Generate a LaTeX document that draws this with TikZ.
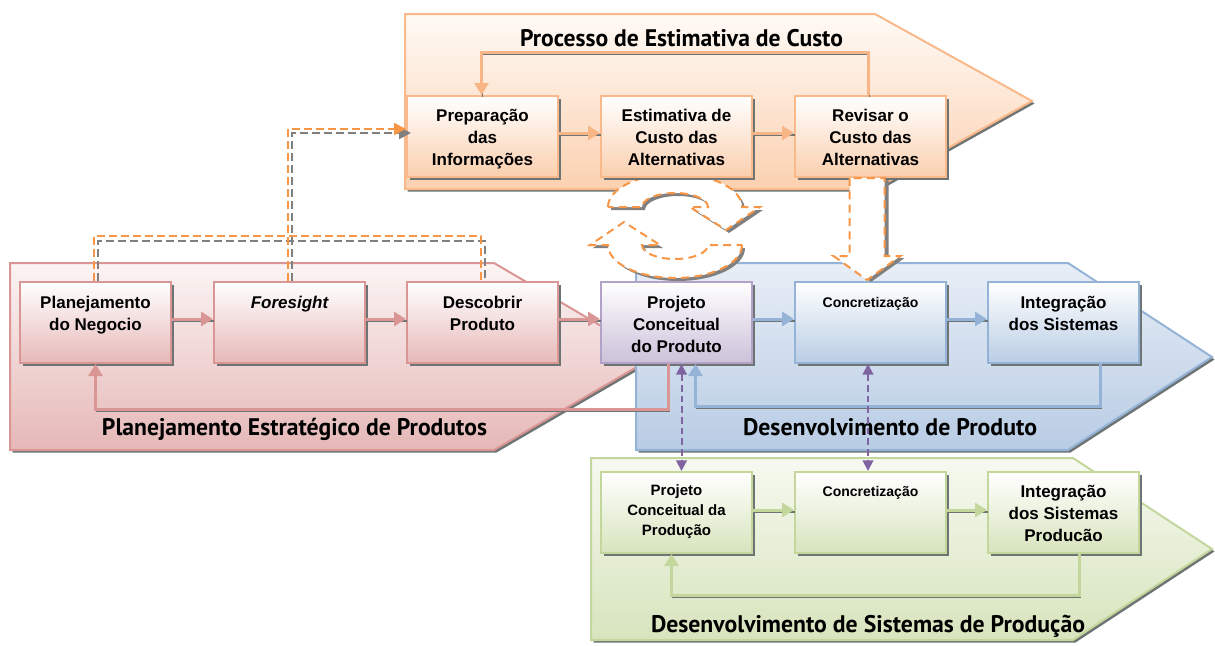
\documentclass[tikz,border=0pt]{standalone}
\usepackage{fontspec}
\setmainfont{Liberation Sans}
\newfontfamily\ttlfont{PT Sans}
\usepackage{graphicx}
\usetikzlibrary{arrows.meta,calc,shadows}

\definecolor{oBd}{HTML}{F9B98A}
\definecolor{oBot}{HTML}{FBCFAE}
\definecolor{oChT}{HTML}{FFFAF6}
\definecolor{oChB}{HTML}{FBD1B0}
\definecolor{oArr}{HTML}{F8B585}
\definecolor{rBd}{HTML}{D99694}
\definecolor{rBot}{HTML}{E6B9B8}
\definecolor{rChT}{HTML}{FCF4F4}
\definecolor{rChB}{HTML}{E5B8B7}
\definecolor{pBd}{HTML}{B3A2C7}
\definecolor{pBot}{HTML}{CCC1DA}
\definecolor{bBd}{HTML}{95B3D7}
\definecolor{bBot}{HTML}{B9CDE5}
\definecolor{bChT}{HTML}{E8EEF7}
\definecolor{bChB}{HTML}{B8CCE4}
\definecolor{gBd}{HTML}{C3D69B}
\definecolor{gBot}{HTML}{D7E4BD}
\definecolor{gChT}{HTML}{F6F9F0}
\definecolor{gChB}{HTML}{D7E4BD}
\definecolor{shd}{HTML}{6E7474}
\definecolor{dOr}{HTML}{F79646}
\definecolor{dGr}{HTML}{808080}
\definecolor{purp}{HTML}{8064A2}

\newcommand{\bxt}[4]{\parbox[c][60.75pt][t]{112pt}{\centering\fontsize{#1}{#2}\selectfont\bfseries\rule{0pt}{#3}#4\par}}
\newcommand{\mytitle}[2]{\resizebox{#1}{\height}{\ttlfont\bfseries\fontsize{18pt}{20pt}\selectfont #2}}

\tikzset{
  boxbase/.style={rectangle, inner sep=0pt, minimum width=113.25pt, minimum height=60.75pt,
    line width=1.5pt, anchor=north west,
    drop shadow={shadow xshift=2.25pt, shadow yshift=-2.25pt, opacity=1, fill=shd}},
  obox/.style={boxbase, draw=oBd, top color=white, bottom color=oBot},
  rbox/.style={boxbase, draw=rBd, top color=white, bottom color=rBot},
  pbox/.style={boxbase, draw=pBd, top color=white, bottom color=pBot},
  bbox/.style={boxbase, draw=bBd, top color=white, bottom color=bBot},
  gbox/.style={boxbase, draw=gBd, top color=white, bottom color=gBot},
  chev/.style={line width=1.5pt},
  conn/.style={line width=2.25pt,
    preaction={draw=shd, line width=0.9pt, -, transform canvas={shift={(0.75pt,-1.5pt)}}}},
  arrO/.style={conn, draw=oArr, -{Triangle[length=9pt,width=10.5pt]}},
  arrR/.style={conn, draw=rBd, -{Triangle[length=9pt,width=10.5pt]}},
  arrB/.style={conn, draw=bBd, -{Triangle[length=9pt,width=10.5pt]}},
  arrG/.style={conn, draw=gBd, -{Triangle[length=9pt,width=10.5pt]}},
  pdash/.style={draw=purp, line width=1.5pt, dash pattern=on 5pt off 3pt,
    {Triangle[length=8pt,width=8pt]}-{Triangle[length=8pt,width=8pt]}},
  dor/.style={draw=dOr, line width=1.5pt, dash pattern=on 6pt off 3pt},
  dgray/.style={draw=dGr, line width=1.5pt, dash pattern=on 6pt off 3pt},
  cycout/.style={fill=white, draw=dOr, line width=1.5pt, dash pattern=on 6pt off 4pt},
  ttl/.style={inner sep=0pt, anchor=base}
}

\begin{document}
\begin{tikzpicture}[x=0.75pt,y=-0.75pt]
\useasboundingbox (0,0) rectangle (1215,646);
\fill[white] (0,0) rectangle (1215,646);

% ---------- chevrons ----------
\begin{scope}[shift={(2.5,2.5)}]
\fill[shd] (405,14) -- (875,14) -- (1032,101) -- (875,189) -- (405,189) -- cycle;
\fill[shd] (10,263) -- (494,263) -- (654,357) -- (494,450) -- (10,450) -- cycle;
\end{scope}
\path[chev, draw=oBd, top color=oChT, bottom color=oChB]
  (405,14) -- (875,14) -- (1032,101) -- (875,189) -- (405,189) -- cycle;
\path[chev, draw=rBd, top color=rChT, bottom color=rChB]
  (10,263) -- (494,263) -- (654,357) -- (494,450) -- (10,450) -- cycle;
\begin{scope}[shift={(2.5,2.5)}]
\fill[shd] (636,263) -- (1068,263) -- (1212,357) -- (1068,450) -- (636,450) -- cycle;
\end{scope}
\path[chev, draw=bBd, top color=bChT, bottom color=bChB]
  (636,263) -- (1068,263) -- (1212,357) -- (1068,450) -- (636,450) -- cycle;
\begin{scope}[shift={(2.5,2.5)}]
\fill[shd] (591,458) -- (1073,458) -- (1212,549) -- (1073,640) -- (591,640) -- cycle;
\end{scope}
\path[chev, draw=gBd, top color=gChT, bottom color=gChB]
  (591,458) -- (1073,458) -- (1212,549) -- (1073,640) -- (591,640) -- cycle;

% ---------- titles ----------
\node[ttl] (tO) at (681.5,46) {\mytitle{242.25pt}{Processo de Estimativa de Custo}};
\node[ttl] (tR) at (294.5,435) {\mytitle{288.75pt}{Planejamento Estratégico de Produtos}};
\node[ttl] (tB) at (890,435) {\mytitle{220.5pt}{Desenvolvimento de Produto}};
\node[ttl] (tG) at (868,632) {\mytitle{325.5pt}{Desenvolvimento de Sistemas de Produção}};

% ---------- circular arrows ----------
\foreach \r in {0,180} {
  \begin{scope}[shift={(678,229)}, rotate=\r]
    \fill[dGr] (-67,-19) arc[start angle=180, end angle=360, x radius=67, y radius=33]
      -- (85,-19) -- (51,4) -- (15,-19) -- (33,-19)
      arc[start angle=360, end angle=180, x radius=33, y radius=14] -- cycle;
  \end{scope}
}
\foreach \r in {0,180} {
  \begin{scope}[shift={(675,226)}, rotate=\r]
    \path[cycout] (-67,-19) arc[start angle=180, end angle=360, x radius=67, y radius=33]
      -- (85,-19) -- (51,4) -- (15,-19) -- (33,-19)
      arc[start angle=360, end angle=180, x radius=33, y radius=14] -- cycle;
  \end{scope}
}

% ---------- boxes ----------
\node[obox] (P1) at (406,95) {\bxt{12.75pt}{16.5pt}{19pt}{Preparação\\das\\Informações}};
\node[obox] (P2) at (600,95) {\bxt{12.75pt}{16.5pt}{19pt}{Estimativa de\\Custo das\\Alternativas}};
\node[obox] (P3) at (794,95) {\bxt{12.75pt}{16.5pt}{19pt}{Revisar o\\Custo das\\Alternativas}};

\node[rbox] (R1) at (19,281) {\bxt{12.75pt}{16.5pt}{19.5pt}{Planejamento\\do Negocio}};
\node[rbox] (R2) at (213,281) {\bxt{12.75pt}{16.5pt}{19.5pt}{\itshape Foresight}};
\node[rbox] (R3) at (406,281) {\bxt{12.75pt}{16.5pt}{19.5pt}{Descobrir\\Produto}};

\node[pbox] (B1) at (600,281) {\bxt{12.75pt}{16.5pt}{19.5pt}{Projeto\\Conceitual\\do Produto}};
\node[bbox] (B2) at (794,281) {\bxt{10.5pt}{15pt}{19pt}{Concretização}};
\node[bbox] (B3) at (987,281) {\bxt{12.75pt}{16.5pt}{19.5pt}{Integração\\dos Sistemas}};

\node[gbox] (G1) at (600,471) {\bxt{11.25pt}{15pt}{17.25pt}{Projeto\\Conceitual da\\Produção}};
\node[gbox] (G2) at (794,471) {\bxt{10.5pt}{15pt}{18pt}{Concretização}};
\node[gbox] (G3) at (987,471) {\bxt{12.75pt}{16.5pt}{19pt}{Integração\\dos Sistemas\\Producão}};

% ---------- big down arrow ----------
\fill[dGr] ($(P3.south)+(-17,2)$) -- ($(B2.north)+(-17,-23)$) -- ($(B2.north)+(-33,-23)$)
  -- ($(B2.north)+(0.5,1)$) -- ($(B2.north)+(34,-23)$) -- ($(B2.north)+(18,-23)$)
  -- ($(P3.south)+(18,2)$) -- cycle;
\path[cycout] ($(P3.south)+(-21,0)$) -- ($(B2.north)+(-21,-25)$) -- ($(B2.north)+(-37,-25)$)
  -- ($(B2.north)+(-3.5,-1)$) -- ($(B2.north)+(30,-25)$) -- ($(B2.north)+(14,-25)$)
  -- ($(P3.south)+(14,0)$) -- cycle;

% ---------- process arrows ----------
\draw[arrO] ($(P1.east)+(0,-3.5)$) -- ($(P2.west)+(0,-3.5)$);
\draw[arrO] ($(P2.east)+(0,-3.5)$) -- ($(P3.west)+(0,-3.5)$);
\draw[arrR] ($(R1.east)+(0,-3.5)$) -- ($(R2.west)+(0,-3.5)$);
\draw[arrR] ($(R2.east)+(0,-3.5)$) -- ($(R3.west)+(0,-3.5)$);
\draw[arrR] ($(R3.east)+(0,-3.5)$) -- ($(B1.west)+(0,-3.5)$);
\draw[arrB] ($(B1.east)+(0,-3.5)$) -- ($(B2.west)+(0,-3.5)$);
\draw[arrB] ($(B2.east)+(0,-3.5)$) -- ($(B3.west)+(0,-3.5)$);
\draw[arrG] ($(G1.east)+(0,-2.5)$) -- ($(G2.west)+(0,-2.5)$);
\draw[arrG] ($(G2.east)+(0,-2.5)$) -- ($(G3.west)+(0,-2.5)$);

% ---------- feedback loops ----------
\draw[arrO] ($(P3.north)+(-2,0)$) -- ++(0,-43) -| ($(P1.north)+(-1,0)$);
\draw[arrR] ($(B1.south)+(-8,0)$) -- ++(0,45) -| (R1.south);
\draw[arrB] ($(B3.south)+(37,0)$) -- ++(0,42) -| ($(B1.south)+(19,0)$);
\draw[arrG] ($(G3.south)+(16,0)$) -- ++(0,41) -| ($(G1.south)+(-5,0)$);

% ---------- purple dashed links ----------
\draw[pdash] ($(B1.south)+(5,0)$) -- ($(G1.north)+(5,0)$);
\draw[pdash] ($(B2.south)+(-2.5,0)$) -- ($(G2.north)+(-2.5,0)$);

% ---------- dashed information links ----------
\draw[dgray] ($(R1.north)+(2,0)$) -- ++(0,-40) -| ($(R3.north)+(2,0)$);
\draw[dgray, -{Triangle[length=9pt,width=9pt]}] ($(R2.north)+(2,0)$) |- ($(P1.west)+(5,-3.5)$);
\draw[dor] ($(R1.north)+(-2,0)$) -- ++(0,-45) -| ($(R3.north)+(-2,0)$);
\draw[dor, -{Triangle[length=9pt,width=9pt]}] ($(R2.north)+(-2,0)$) |- ($(P1.west)+(0,-7.5)$);
\end{tikzpicture}
\end{document}
